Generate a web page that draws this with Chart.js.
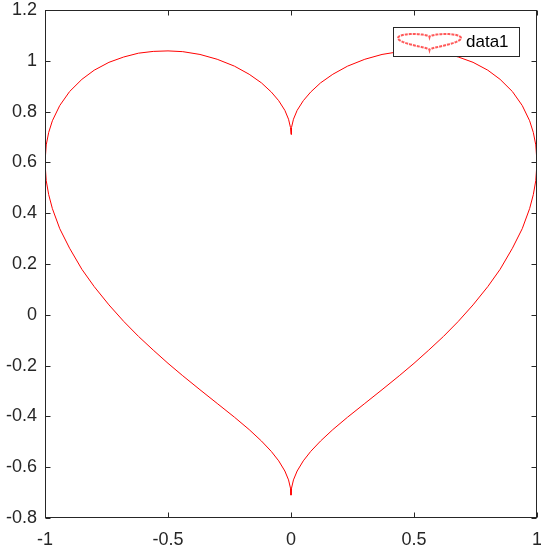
<!DOCTYPE html>
<html>
<head>
<meta charset="utf-8">
<script src="https://cdn.jsdelivr.net/npm/chart.js@4"></script>
<style>
  body { margin: 0; background: #fff; }
  #wrap { width: 541px; height: 549px; }
</style>
</head>
<body>
<div id="wrap"><canvas id="heart" width="541" height="549"></canvas></div>
<script>
// |x| positions read along the right half of the heart (mirrored for the left half)
const xs = [0, 0.002, 0.01, 0.025, 0.05, 0.08, 0.12, 0.17, 0.23, 0.3, 0.37, 0.44, 0.5,
  0.56, 0.62, 0.68, 0.74, 0.8, 0.85, 0.9, 0.94, 0.97, 0.985, 0.995, 1];
// upper branch y values at those x
const upper = [0.71, 0.737, 0.77, 0.805, 0.843, 0.877, 0.913, 0.947, 0.979, 1.006, 1.025, 1.036, 1.039,
  1.037, 1.030, 1.015, 0.994, 0.963, 0.927, 0.879, 0.824, 0.764, 0.718, 0.669, 0.6];
// lower branch y values at those x
const lower = [-0.71, -0.683, -0.65, -0.615, -0.575, -0.538, -0.497, -0.452, -0.403, -0.349, -0.295, -0.240, -0.191,
  -0.139, -0.085, -0.026, 0.039, 0.111, 0.179, 0.262, 0.339, 0.418, 0.473, 0.528, 0.6];

const xTicks = [-1, -0.5, 0, 0.5, 1];
const xTickLabels = ['-1', '-0.5', '0', '0.5', '1'];
const yTicks = [-0.8, -0.6, -0.4, -0.2, 0, 0.2, 0.4, 0.6, 0.8, 1, 1.2];
const yTickLabels = ['-0.8', '-0.6', '-0.4', '-0.2', '0', '0.2', '0.4', '0.6', '0.8', '1', '1.2'];
const seriesName = 'data1';

// walk round the outline: left upper -> right upper -> right lower -> left lower
const n = xs.length;
const points = [];
for (let i = n - 1; i >= 0; i--) points.push({ x: -xs[i], y: upper[i] });
for (let i = 1; i < n; i++) points.push({ x: xs[i], y: upper[i] });
for (let i = n - 2; i >= 0; i--) points.push({ x: xs[i], y: lower[i] });
for (let i = 1; i < n; i++) points.push({ x: -xs[i], y: lower[i] });

const axisColor = '#262626';
const fam = 'Liberation Sans, Arial, Helvetica, sans-serif';
const font = { family: fam, size: 18 };

// box round the axes with inward ticks, matlab style
const boxPlugin = {
  id: 'box',
  afterDraw(chart) {
    const { ctx, chartArea, scales } = chart;
    const l = Math.round(chartArea.left) + 0.5, r = Math.round(chartArea.right) - 0.5;
    const t = Math.round(chartArea.top) + 0.5, b = Math.round(chartArea.bottom) - 0.5;
    const len = 5;
    ctx.save();
    ctx.strokeStyle = axisColor;
    ctx.lineWidth = 1;
    ctx.strokeRect(l, t, r - l, b - t);
    ctx.beginPath();
    xTicks.forEach(v => {
      const px = Math.round(scales.x.getPixelForValue(v)) + 0.5;
      ctx.moveTo(px, b); ctx.lineTo(px, b - len);
      ctx.moveTo(px, t); ctx.lineTo(px, t + len);
    });
    yTicks.forEach(v => {
      const py = Math.round(scales.y.getPixelForValue(v)) + 0.5;
      ctx.moveTo(l, py); ctx.lineTo(l + len, py);
      ctx.moveTo(r, py); ctx.lineTo(r - len, py);
    });
    ctx.stroke();

    // legend box
    const bx = 393, by = 27, bw = 126, bh = 29;
    ctx.fillStyle = '#fff';
    ctx.fillRect(bx, by, bw, bh);
    ctx.strokeStyle = axisColor;
    ctx.strokeRect(bx + 0.5, by + 0.5, bw, bh);

    // legend icon: the outline squeezed into a small box
    const ix0 = 398, ix1 = 461, iy0 = 34, iy1 = 50;
    ctx.beginPath();
    points.forEach((p, i) => {
      const px = ix0 + (p.x + 1) / 2 * (ix1 - ix0);
      const py = iy1 - (p.y + 0.71) / (1.04 + 0.71) * (iy1 - iy0);
      if (i === 0) ctx.moveTo(px, py); else ctx.lineTo(px, py);
    });
    ctx.strokeStyle = 'rgba(255,0,0,0.65)';
    ctx.lineWidth = 2;
    ctx.setLineDash([3, 1]);
    ctx.stroke();
    ctx.setLineDash([]);

    ctx.fillStyle = '#000';
    ctx.font = `17px ${fam}`;
    ctx.textBaseline = 'middle';
    ctx.textAlign = 'left';
    ctx.fillText(seriesName, 466, 42);
    ctx.restore();
  }
};

// drop the extra room chart.js reserves for edge tick labels
function noPad(s) {
  s.paddingLeft = 0; s.paddingRight = 0; s.paddingTop = 0; s.paddingBottom = 0;
}

new Chart(document.getElementById('heart'), {
  type: 'scatter',
  data: {
    datasets: [{
      label: seriesName,
      data: points,
      showLine: true,
      borderColor: '#ff0000',
      borderWidth: 1,
      pointRadius: 0,
      tension: 0,
      fill: false
    }]
  },
  options: {
    responsive: false,
    animation: false,
    devicePixelRatio: 1,
    layout: { padding: { top: 10, right: 4, left: 0, bottom: 0 } },
    plugins: { legend: { display: false }, tooltip: { enabled: false } },
    scales: {
      x: {
        type: 'linear', min: -1, max: 1,
        grid: { display: false, drawTicks: false },
        border: { display: false },
        afterBuildTicks: s => { s.ticks = xTicks.map(v => ({ value: v })); },
        afterFit: s => { s.height = 31; noPad(s); },
        ticks: {
          color: axisColor, font, padding: 11, maxRotation: 0,
          callback: (v, i) => xTickLabels[i]
        }
      },
      y: {
        type: 'linear', min: -0.8, max: 1.2,
        grid: { display: false, drawTicks: false },
        border: { display: false },
        afterBuildTicks: s => { s.ticks = yTicks.map(v => ({ value: v })); },
        afterFit: s => { s.width = 45; noPad(s); },
        ticks: {
          color: axisColor, font, padding: 8,
          callback: (v, i) => yTickLabels[i]
        }
      }
    }
  },
  plugins: [boxPlugin]
});
</script>
</body>
</html>
